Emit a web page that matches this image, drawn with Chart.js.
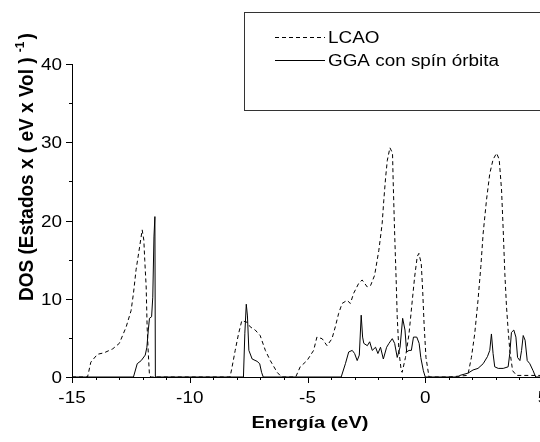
<!DOCTYPE html>
<html>
<head>
<meta charset="utf-8">
<script src="https://cdn.jsdelivr.net/npm/chart.js@4.4.1/dist/chart.umd.min.js"></script>
<style>
  html, body { margin: 0; padding: 0; background: #fff; overflow: hidden; }
  canvas { display: block; }
</style>
</head>
<body>
<canvas id="dos" width="550" height="442"></canvas>
<script>
// --- DATA ---
const lcaoE = [-15, -14.34, -14.2, -13.92, -13.63, -13.27, -12.99, -12.7, -12.49, -12.39, -12.28, -12.13, -12.02, -11.95, -11.91, -11.85, -11.81, -11.76, -11.71, -11.65,
  -8.29, -8.22, -8.07, -7.93, -7.79, -7.57, -7.43, -7.22, -7.01, -6.79, -6.58, -6.29, -6.1,
  -5.5, -5.31, -5.02, -4.74, -4.6, -4.38, -4.17, -3.96, -3.82, -3.68, -3.53, -3.32, -3.18, -3.04, -2.82, -2.68, -2.46, -2.32, -2.15,
  -1.97, -1.83, -1.76, -1.68, -1.61, -1.5, -1.39, -1.36, -1.3, -1.23, -1.19, -1.12, -1.02, -0.98,
  -0.84, -0.69, -0.55, -0.45, -0.34, -0.27, -0.17, -0.11, -0.05, 0.03, 0.16,
  1.0, 1.78, 1.82, 1.96, 2.1, 2.24, 2.36, 2.46, 2.6, 2.74, 2.88, 3.03, 3.14, 3.24, 3.31, 3.38, 3.45, 3.52, 3.59, 3.71, 3.88, 5.0];
const lcaoDOS = [0, 0, 1.9, 2.9, 3.1, 3.6, 4.3, 6.4, 8.5, 10.7, 13.7, 16.6, 18.8, 17.5, 14.9, 11.5, 6.4, 3.0, 0.2, 0,
  0, 1.0, 3.4, 5.5, 7.2, 7.0, 6.4, 6.0, 5.3, 3.4, 2.1, 0.6, 0,
  0, 1.3, 2.1, 3.4, 5.1, 4.9, 4.0, 4.9, 6.4, 8.1, 9.4, 9.8, 9.4, 10.7, 12.0, 12.4, 11.5, 11.7, 13.0,
  16.2, 19.6, 22.6, 25.6, 27.7, 29.3, 28.6, 24.8, 18.4, 11.9, 7.7, 3.4, 0.8, 0.6,
  2.5, 5.5, 9.8, 12.8, 15.4, 15.8, 14.5, 11.1, 6.8, 2.5, 0,
  0, 0.2, 0.4, 2.5, 5.5, 9.8, 14.1, 18.4, 22.6, 26.0, 27.8, 28.6, 27.8, 23.9, 18.8, 13.2, 9.0, 6.0, 3.4, 0.8, 0.2, 0.2];

const ggaE = [-15, -12.39, -12.23, -12.06, -11.89, -11.82, -11.76, -11.71, -11.62, -11.57, -11.52, -11.48, -11.46,
  -7.72, -7.66, -7.6, -7.55, -7.49, -7.35, -7.14, -7.03, -6.95, -6.88,
  -3.57, -3.39, -3.25, -3.1, -3.0, -2.89, -2.8, -2.72, -2.66, -2.61, -2.46, -2.36, -2.25, -2.11, -2.01, -1.9, -1.78, -1.64, -1.54, -1.4, -1.3, -1.19, -1.07,
  -0.96, -0.86, -0.79, -0.69, -0.59, -0.5, -0.36, -0.26, -0.19, -0.08, 0.0,
  1.4, 1.47, 1.82, 2.03, 2.24, 2.46, 2.64, 2.74, 2.81, 2.88, 2.95, 3.1, 3.31, 3.52, 3.59, 3.66, 3.76, 3.85, 3.92, 4.02, 4.09, 4.16, 4.24, 4.33, 4.44, 4.58, 4.69, 5.0];
const ggaDOS = [0, 0, 1.7, 2.1, 2.8, 3.8, 6.0, 7.5, 7.7, 10.2, 17.9, 20.5, 0,
  0, 5.6, 9.3, 7.8, 3.4, 2.3, 2.0, 1.7, 0.6, 0,
  0, 1.7, 3.2, 3.4, 3.0, 2.1, 2.8, 7.9, 5.1, 4.3, 4.0, 4.5, 3.4, 3.8, 3.0, 3.8, 2.3, 3.8, 4.3, 4.9, 4.3, 2.5, 3.8,
  7.5, 6.0, 3.2, 3.4, 3.4, 5.1, 5.1, 4.3, 2.5, 0.8, 0,
  0, 0.2, 0.5, 0.9, 1.1, 1.7, 2.6, 3.4, 5.5, 3.0, 1.3, 1.1, 1.1, 1.3, 3.0, 5.7, 6.0, 5.1, 2.5, 2.1, 3.4, 5.3, 4.7, 2.1, 1.7, 0.8, 0, 0];

const seriesNames = ['LCAO', 'GGA con spín órbita'];
const xTickLabels = [-15, -10, -5, 0, 5];
const yTickLabels = [0, 10, 20, 30, 40];
const xMinorStep = 1;
const yMinorStep = 5;

// text in the picture is a little wider than normal Arial
const SX = 1.18;
const FONT = '"Liberation Sans", Arial, sans-serif';

function stretchText(ctx, s, x, y, align, font) {
  ctx.save();
  ctx.font = font;
  ctx.translate(x, y);
  ctx.scale(SX, 1);
  ctx.textAlign = align;
  ctx.textBaseline = 'alphabetic';
  ctx.fillText(s, 0, 0);
  ctx.restore();
}

// --- axes decorations, titles, legend ---
const decor = {
  id: 'decor',
  afterDraw(chart) {
    const ctx = chart.ctx;
    const xs = chart.scales.x, ys = chart.scales.y;
    const area = chart.chartArea;
    ctx.save();
    ctx.strokeStyle = '#000';
    ctx.fillStyle = '#000';
    ctx.lineWidth = 1;

    // tick marks
    ctx.beginPath();
    for (let v = xs.min; v <= xs.max + 1e-9; v += xMinorStep) {
      const px = Math.round(xs.getPixelForValue(v)) + 0.5;
      const len = xTickLabels.includes(v) ? 6 : 3;
      ctx.moveTo(px, area.bottom);
      ctx.lineTo(px, area.bottom + len);
    }
    for (let v = ys.min; v <= ys.max + 1e-9; v += yMinorStep) {
      const py = Math.round(ys.getPixelForValue(v)) + 0.5;
      const len = yTickLabels.includes(v) ? 6 : 3;
      ctx.moveTo(area.left, py);
      ctx.lineTo(area.left - len, py);
    }
    ctx.stroke();

    // tick labels
    xTickLabels.forEach(v => {
      stretchText(ctx, String(v), xs.getPixelForValue(v), area.bottom + 26, 'center', '16px ' + FONT);
    });
    yTickLabels.forEach(v => {
      stretchText(ctx, String(v), area.left - 10, ys.getPixelForValue(v) + 6, 'right', '16px ' + FONT);
    });

    // x title
    stretchText(ctx, 'Energía (eV)', 310, 428, 'center', 'bold 17px ' + FONT);

    // y title with superscript
    ctx.save();
    ctx.translate(33, 301);
    ctx.rotate(-Math.PI / 2);
    ctx.scale(1, 1.1);
    ctx.textAlign = 'left';
    ctx.textBaseline = 'alphabetic';
    ctx.font = 'bold 19px ' + FONT;
    const main = 'DOS (Estados x ( eV x Vol ) ';
    ctx.fillText(main, 0, 0);
    let w = ctx.measureText(main).width;
    ctx.font = 'bold 12px ' + FONT;
    ctx.fillText('-1', w, -8);
    w += ctx.measureText('-1').width + 2;
    ctx.font = 'bold 19px ' + FONT;
    ctx.fillText(')', w, 0);
    ctx.restore();

    // legend box
    ctx.strokeStyle = '#333';
    ctx.strokeRect(244.5, 12.5, 400, 98);
    ctx.strokeStyle = '#000';
    const rows = [{ y: 37, dash: [4, 3] }, { y: 60, dash: [] }];
    rows.forEach((r, i) => {
      ctx.setLineDash(r.dash);
      ctx.beginPath();
      ctx.moveTo(275, r.y + 0.5);
      ctx.lineTo(325, r.y + 0.5);
      ctx.stroke();
      ctx.setLineDash([]);
      stretchText(ctx, seriesNames[i], 328, r.y + 6, 'left', '16px ' + FONT);
    });
    ctx.restore();
  }
};

const toPoints = (xsArr, ysArr) => xsArr.map((x, i) => ({ x: x, y: ysArr[i] }));

new Chart(document.getElementById('dos'), {
  type: 'line',
  data: {
    datasets: [
      { label: seriesNames[0], data: toPoints(lcaoE, lcaoDOS), borderColor: '#000', borderWidth: 1, borderDash: [4, 3], pointRadius: 0, tension: 0, fill: false },
      { label: seriesNames[1], data: toPoints(ggaE, ggaDOS), borderColor: '#000', borderWidth: 1, pointRadius: 0, tension: 0, fill: false }
    ]
  },
  options: {
    responsive: false,
    animation: false,
    layout: { padding: { left: 72, top: 64, right: 7, bottom: 65 } },
    plugins: { legend: { display: false }, tooltip: { enabled: false } },
    scales: {
      x: {
        type: 'linear', min: -15, max: 5,
        ticks: { display: false },
        grid: { display: false, drawTicks: false },
        border: { display: true, color: '#000', width: 1 }
      },
      y: {
        type: 'linear', min: 0, max: 40,
        ticks: { display: false },
        grid: { display: false, drawTicks: false },
        border: { display: true, color: '#000', width: 1 }
      }
    }
  },
  plugins: [decor]
});
</script>
</body>
</html>
